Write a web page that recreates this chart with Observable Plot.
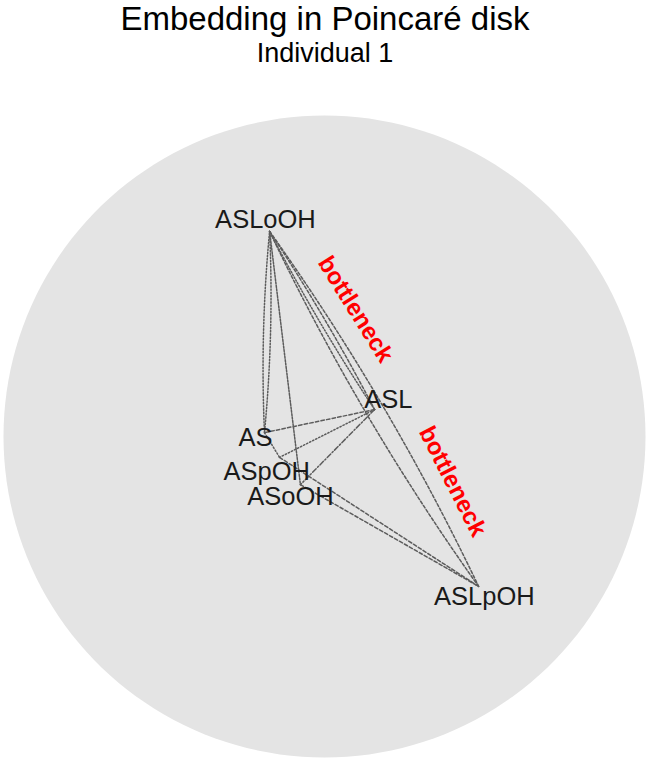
<!DOCTYPE html>
<html>
<head>
<meta charset="utf-8">
<script src="https://cdn.jsdelivr.net/npm/d3@7"></script>
<script src="https://cdn.jsdelivr.net/npm/@observablehq/plot@0.6"></script>
<style>
  html, body { margin: 0; padding: 0; background: #ffffff; }
  body { width: 650px; height: 761px; overflow: hidden; font-family: "Liberation Sans", Arial, sans-serif; }
  #header { width: 650px; height: 70px; text-align: center; color: #000; }
  #title { font-size: 33px; line-height: 38px; margin: 0; padding: 0; font-weight: normal; white-space: nowrap; }
  #subtitle { font-size: 27px; line-height: 31px; margin: 0; white-space: nowrap; }
  #chart svg { display: block; }
</style>
</head>
<body>
<div id="header">
  <div id="title">Embedding in Poincaré disk</div>
  <div id="subtitle">Individual 1</div>
</div>
<div id="chart"></div>
<script>
// ---- data (Poincaré disk coordinates, unit disk) ----
const nodeNames = ["ASLoOH", "ASL", "AS", "ASpOH", "ASoOH", "ASLpOH"];
const nodeX     = [-0.171, 0.156, -0.187, -0.140, -0.075, 0.480];
const nodeY     = [ 0.639, 0.084,  0.012, -0.065, -0.150, -0.467];
const labelX    = [-0.184, 0.199, -0.215, -0.180, -0.106, 0.498];
const labelY    = [ 0.676, 0.115, -0.003, -0.109, -0.187, -0.498];

const edgeSource = ["ASLoOH", "AS",     "ASLoOH", "ASLoOH", "ASL",    "ASLoOH", "ASLpOH", "ASL",  "ASL",   "ASL",     "ASpOH",  "ASoOH",  "AS"];
const edgeTarget = ["AS",     "ASLoOH", "ASoOH",  "ASL",    "ASLoOH", "ASLpOH", "ASLoOH", "AS",   "ASpOH", "ASoOH",   "ASLpOH", "ASLpOH", "ASpOH"];
const edgeKind   = ["dotLens","dotLens","fine",   "dashLens3","dotLens3","dashLens5","dashLens5","dash","dot","dashdot","dash",  "dash",   "dot"];

const annotText  = ["bottleneck", "bottleneck"];
const annotX     = [0.097, 0.399];
const annotY     = [0.396, -0.140];
const annotAngle = [58, 63];

// ---- styles ----
const kindStyle = {
  dotLens:   {dash: "1.4,1.8", bend: 4},
  dotLens3:  {dash: "1.4,1.8", bend: 3},
  dashLens3: {dash: "3,2",     bend: 3},
  dashLens5: {dash: "3,2",     bend: 5},
  fine:      {dash: "2,1.4",   bend: 0},
  dash:      {dash: "3.5,2.2", bend: 0},
  dot:       {dash: "1.4,2",   bend: 0},
  dashdot:   {dash: "5,2,1.4,2", bend: 0}
};

// ---- build tables ----
const nodes = nodeNames.map((n, i) => ({name: n, x: nodeX[i], y: nodeY[i], lx: labelX[i], ly: labelY[i]}));
const byName = new Map(nodes.map(d => [d.name, d]));
const edges = edgeSource.map((s, i) => ({
  s, t: edgeTarget[i], kind: edgeKind[i],
  x1: byName.get(s).x, y1: byName.get(s).y,
  x2: byName.get(edgeTarget[i]).x, y2: byName.get(edgeTarget[i]).y
}));
const annots = annotText.map((t, i) => ({text: t, x: annotX[i], y: annotY[i], a: annotAngle[i]}));
const diskBoundary = d3.range(0, 360, 2).map(a => ({x: Math.cos(a * Math.PI / 180), y: Math.sin(a * Math.PI / 180)}));

const edgeMarks = Object.keys(kindStyle).map(k =>
  Plot.arrow(edges.filter(e => e.kind === k), {
    x1: "x1", y1: "y1", x2: "x2", y2: "y2",
    bend: kindStyle[k].bend,
    headLength: 0,
    stroke: "#5c5c5c",
    strokeWidth: 1.5,
    strokeDasharray: kindStyle[k].dash
  })
);

const chart = Plot.plot({
  width: 650,
  height: 691,
  marginLeft: 3,
  marginRight: 5,
  marginTop: 45,
  marginBottom: 4,
  x: {domain: [-1, 1], axis: null},
  y: {domain: [-1, 1], axis: null},
  style: {background: "transparent", fontFamily: "'Liberation Sans', Arial, sans-serif"},
  marks: [
    Plot.line(diskBoundary, {x: "x", y: "y", curve: "linear-closed", fill: "#e4e4e4", stroke: "none"}),
    ...edgeMarks,
    Plot.text(nodes, {x: "lx", y: "ly", text: "name", fontSize: 25.5, fill: "#1a1a1a", textAnchor: "middle", lineAnchor: "middle"}),
    Plot.text(annots, {x: "x", y: "y", text: "text", rotate: "a", fontSize: 24, fontWeight: "bold", fill: "#ff0000", textAnchor: "middle", lineAnchor: "middle"})
  ]
});
document.getElementById("chart").appendChild(chart);
</script>
</body>
</html>
